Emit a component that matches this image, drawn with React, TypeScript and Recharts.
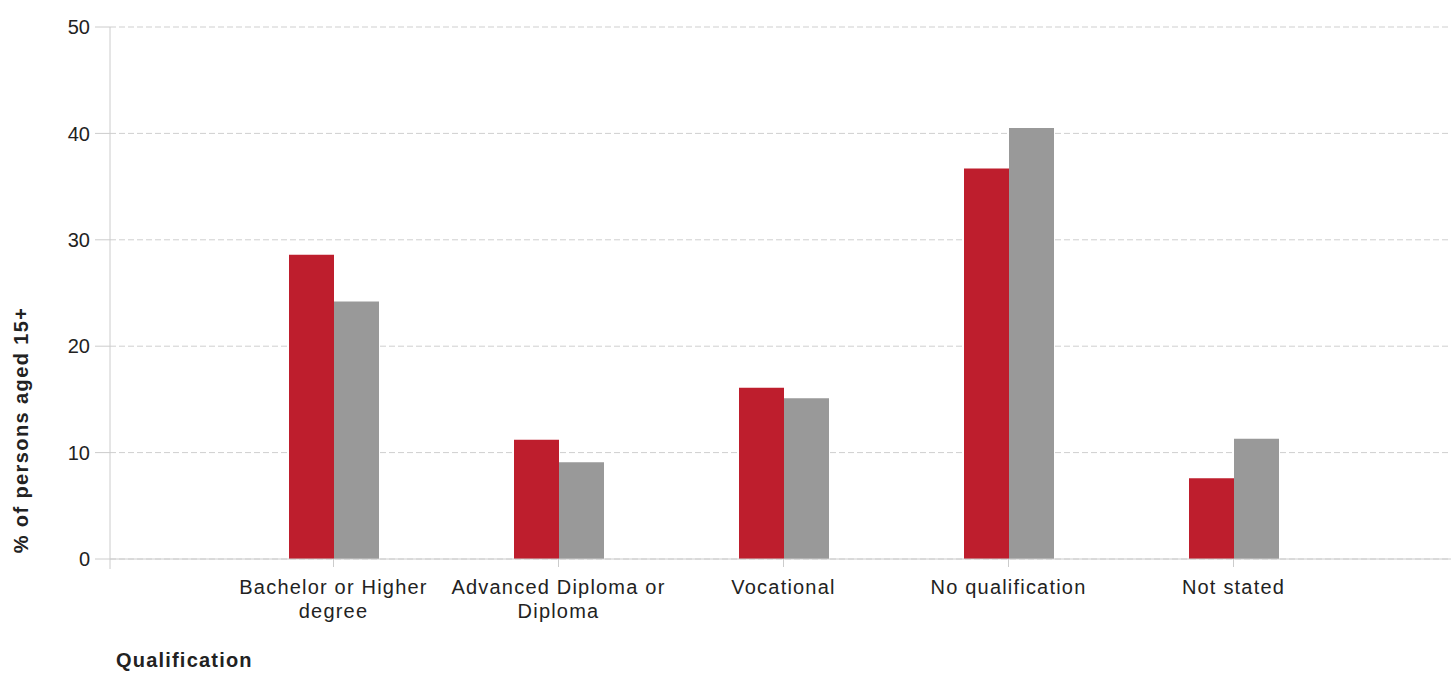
import { Bar, BarChart, CartesianGrid, XAxis, YAxis } from 'recharts';

const categories = ['Bachelor or Higher degree', 'Advanced Diploma or Diploma', 'Vocational', 'No qualification', 'Not stated'];
const tickLines: string[][] = [
  ['Bachelor or Higher', 'degree'],
  ['Advanced Diploma or', 'Diploma'],
  ['Vocational'],
  ['No qualification'],
  ['Not stated'],
];
const areaValues = [28.6, 11.2, 16.1, 36.7, 7.6];
const australiaValues = [24.2, 9.1, 15.1, 40.5, 11.3];
const yTicks = [0, 10, 20, 30, 40, 50];

const font = '"Liberation Sans", Arial, sans-serif';
const textColor = '#222222';
const axisColor = '#cccccc';

const rows = categories.map((name, i) => ({
  name,
  area: areaValues[i],
  australia: australiaValues[i],
}));

function CategoryTick(props: any) {
  const { x, y, index } = props;
  const lines = tickLines[index] ?? [props.payload.value];
  return (
    <text x={x} y={y} textAnchor="middle" fill={textColor} fontFamily={font} fontSize={20} letterSpacing={1.2}>
      {lines.map((line, i) => (
        <tspan key={i} x={x} dy={i === 0 ? 25 : 24}>
          {line}
        </tspan>
      ))}
    </text>
  );
}

function YTitle() {
  return (
    <text
      x={21}
      y={430}
      transform="rotate(-90 21 430)"
      textAnchor="middle"
      dominantBaseline="central"
      fill={textColor}
      fontFamily={font}
      fontSize={20}
      fontWeight="bold"
      letterSpacing={1.4}
    >
      % of persons aged 15+
    </text>
  );
}

// x title, plus the short stub of the y axis below the baseline
function XTitle() {
  return (
    <g>
      <line x1={110} y1={559} x2={110} y2={569} stroke={axisColor} />
      <text x={116} y={667} fill={textColor} fontFamily={font} fontSize={20} fontWeight="bold" letterSpacing={1.2}>
        Qualification
      </text>
    </g>
  );
}

export default function App() {
  return (
    <div style={{ position: 'absolute', left: 0, top: 0, background: '#fff' }}>
      <BarChart
        width={1451}
        height={673}
        data={rows}
        margin={{ top: 27, right: 0, bottom: 0, left: 0 }}
        barGap={0}
        barSize={45}
      >
        <CartesianGrid vertical={false} stroke="#cfcfcf" strokeDasharray="6 3" />
        <XAxis
          dataKey="name"
          height={114}
          padding={{ left: 111, right: 105 }}
          stroke={axisColor}
          tickLine={{ stroke: axisColor }}
          tickSize={8}
          tickMargin={2}
          interval={0}
          tick={<CategoryTick />}
          label={<XTitle />}
        />
        <YAxis
          width={110}
          domain={[0, 50]}
          ticks={yTicks}
          stroke={axisColor}
          tickLine={{ stroke: axisColor }}
          tickSize={15}
          tickMargin={5}
          tick={{ fill: textColor, fontFamily: font, fontSize: 20 }}
          label={<YTitle />}
        />
        <Bar dataKey="area" fill="#be1e2d" isAnimationActive={false} />
        <Bar dataKey="australia" fill="#999999" isAnimationActive={false} />
      </BarChart>
    </div>
  );
}
